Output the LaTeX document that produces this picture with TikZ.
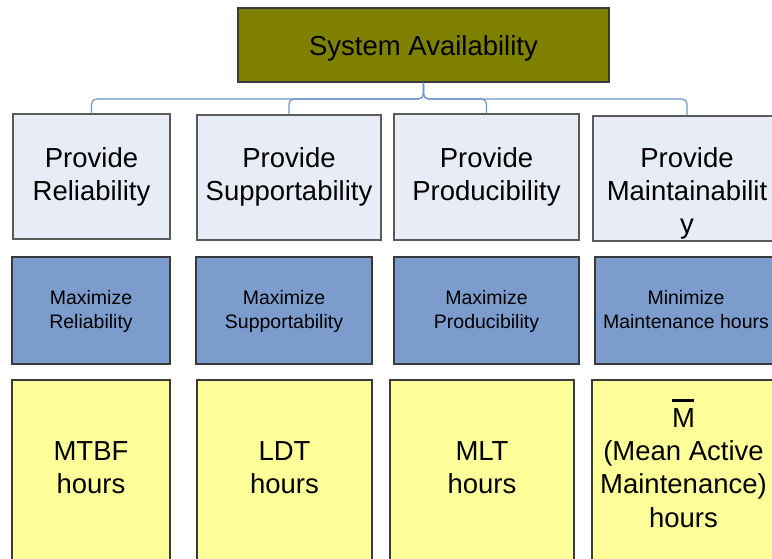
\documentclass[tikz,border=0pt]{standalone}
\usepackage{fontspec}
\setmainfont{Liberation Sans}
\definecolor{olivec}{HTML}{808000}
\definecolor{lightb}{HTML}{E7ECF6}
\definecolor{midb}{HTML}{7B9CCD}
\definecolor{yellowc}{HTML}{FFFF99}
\definecolor{edgedark}{HTML}{3A3A3A}
\definecolor{edgegray}{HTML}{5A5A5A}
\definecolor{connc}{HTML}{7096D0}
\begin{document}
\begin{tikzpicture}[x=1pt,y=-1pt,
  sbox/.style={rectangle, inner sep=0pt, line width=1.2pt},
  topbox/.style={sbox, fill=olivec, draw=edgedark},
  provbox/.style={sbox, fill=lightb, draw=edgegray},
  maxbox/.style={sbox, fill=midb, draw=edgedark},
  metbox/.style={sbox, fill=yellowc, draw=edgedark},
  bigtext/.style={font=\fontsize{27.5}{33.3}\selectfont, align=center, inner sep=0pt, anchor=north, text=black},
  smalltext/.style={font=\fontsize{19.5}{24}\selectfont, align=center, inner sep=0pt, anchor=north, text=black},
  conn/.style={draw=connc, line width=1.2pt, rounded corners=5pt}]
\useasboundingbox (0,0) rectangle (772,559);
\clip (0,0) rectangle (772,559);
\fill[white] (0,0) rectangle (772,559);

% top
\node[topbox, minimum width=371pt, minimum height=74pt] (top) at (423.5,45) {};
\node[bigtext] (ttop) at (423.5,31.7) {\strut System Availability};

% row 1
\node[provbox, minimum width=157pt, minimum height=125pt] (b1) at (91.5,176.5) {};
\node[provbox, minimum width=184pt, minimum height=125pt] (b2) at (289,177.5) {};
\node[provbox, minimum width=185pt, minimum height=126pt] (b3) at (486.5,177) {};
\node[provbox, minimum width=188pt, minimum height=125pt] (b4) at (687,178.5) {};
\node[bigtext] (tb1) at (91.5,143.7) {\strut Provide\\Reliability};
\node[bigtext] (tb2) at (289,143.7) {\strut Provide\\Supportability};
\node[bigtext] (tb3) at (486.5,143.7) {\strut Provide\\Producibility};
\node[bigtext] (tb4) at (687,143.7) {\strut Provide\\Maintainabilit\\y};

% connectors
\coordinate (bus) at (423.5,99);
\draw[conn] (top.south) -- (bus) -| (b1.north);
\draw[conn] (top.south) -- (bus) -| (b2.north);
\draw[conn] (top.south) -- (bus) -| (b3.north);
\draw[conn] (top.south) -- (bus) -| (b4.north);

% row 2
\node[maxbox, minimum width=158pt, minimum height=107pt] (c1) at (91,310.5) {};
\node[maxbox, minimum width=176pt, minimum height=107pt] (c2) at (284,310.5) {};
\node[maxbox, minimum width=185pt, minimum height=107pt] (c3) at (486.5,310.5) {};
\node[maxbox, minimum width=182pt, minimum height=107pt] (c4) at (686,310.5) {};
\node[smalltext] (tc1) at (91,287.2) {\strut Maximize\\Reliability};
\node[smalltext] (tc2) at (284,287.2) {\strut Maximize\\Supportability};
\node[smalltext] (tc3) at (486.5,287.2) {\strut Maximize\\Producibility};
\node[smalltext] (tc4) at (686,287.2) {\strut Minimize\\Maintenance hours};

% row 3
\node[metbox, minimum width=158pt, minimum height=200pt] (d1) at (91,480) {};
\node[metbox, minimum width=175pt, minimum height=200pt] (d2) at (284.5,480) {};
\node[metbox, minimum width=184pt, minimum height=200pt] (d3) at (482,480) {};
\node[metbox, minimum width=183pt, minimum height=200pt] (d4) at (683.5,480) {};
\node[bigtext] (td1) at (91,436.7) {\strut MTBF\\hours};
\node[bigtext] (td2) at (284.5,436.7) {\strut LDT\\hours};
\node[bigtext] (td3) at (482,436.7) {\strut MLT\\hours};
\node[bigtext] (td4) at (683.5,403.7) {\strut\smash{\rlap{\rule[25pt]{22pt}{3pt}}}M\\(Mean Active\\Maintenance)\\hours};
\end{tikzpicture}
\end{document}
